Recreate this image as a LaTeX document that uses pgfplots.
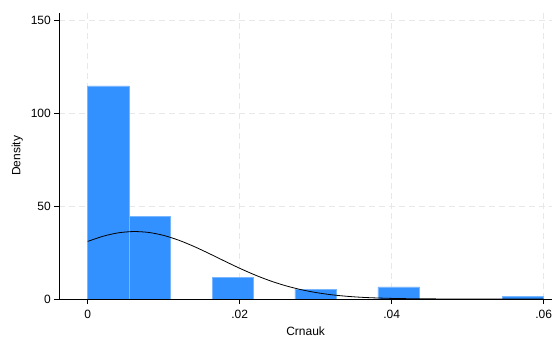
\documentclass[border=0pt]{standalone}
\usepackage{pgfplots}
\pgfplotsset{compat=1.18}
\usepackage{fontspec}
\setmainfont{Liberation Sans}

\definecolor{barblue}{RGB}{51,144,255}
\definecolor{baredge}{RGB}{120,182,255}
\definecolor{gridgray}{RGB}{232,232,232}

% histogram densities per bin (bin width 0.06/11), bins with no observations left out
\pgfplotstableread{
x         dens
0.002727  114.6
0.008182  44.3
0.019091  11.7
0.030000  5.2
0.040909  6.5
0.057273  1.3
}\histdata

\begin{document}
\begin{tikzpicture}
\useasboundingbox (0,0) rectangle (556bp,338bp);
\begin{axis}[
  at={(59.3bp,39bp)}, anchor=south west,
  scale only axis, width=492.7bp, height=286.3bp,
  xmin=-0.00374, xmax=0.06109, ymin=0, ymax=153.9,
  axis lines*=left,
  axis line style={black, line width=0.8bp},
  scaled x ticks=false, scaled y ticks=false,
  /pgf/number format/assume math mode=true,
  xtick={0,0.02,0.04,0.06}, xticklabels={0,.02,.04,.06},
  ytick={0,50,100,150}, yticklabels={0,50,100,150},
  tick align=outside, major tick length=5bp,
  tick style={black, line width=0.8bp},
  grid=major,
  grid style={gridgray, dash pattern=on 6bp off 4bp, line width=0.8bp},
  tick label style={font=\fontsize{12bp}{14bp}\selectfont},
  xticklabel style={yshift=-3bp},
  label style={font=\fontsize{12bp}{14bp}\selectfont},
  xlabel={Crnauk}, ylabel={Density},
  xlabel style={at={(axis description cs:0.5,0)}, anchor=base, yshift=-36bp},
  ylabel style={at={([xshift=-42bp]axis description cs:0,0.5)}, anchor=center},
]
\addplot[ybar, bar width=0.0054545, fill=barblue, draw=baredge, line width=0.6bp]
  table[x=x, y=dens] {\histdata};

% normal density overlay (mean 0.0062, sd 0.011)
\addplot[black, line width=0.8bp, smooth] coordinates {
(0.000,30.95) (0.002,33.72) (0.004,35.55) (0.006,36.26) (0.008,35.79)
(0.010,34.17) (0.012,31.56) (0.014,28.21) (0.016,24.39) (0.018,20.40)
(0.020,16.51) (0.022,12.93) (0.024,9.79) (0.026,7.18) (0.028,5.09)
(0.030,3.49) (0.032,2.32) (0.034,1.49) (0.036,0.92) (0.038,0.56)
(0.040,0.32) (0.042,0.18) (0.044,0.10) (0.046,0.05) (0.048,0.02)
(0.050,0.01) (0.052,0.00) (0.056,0.00) (0.060,0.00)
};
\end{axis}
\end{tikzpicture}
\end{document}
